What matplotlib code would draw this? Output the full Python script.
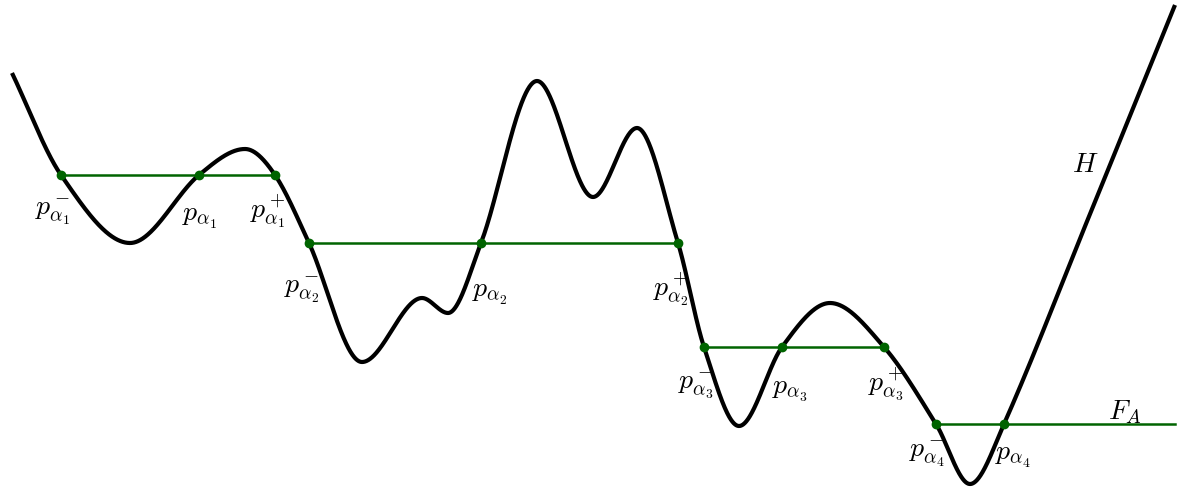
import matplotlib
matplotlib.use("Agg")
import matplotlib.pyplot as plt
import numpy as np

plt.rcParams['mathtext.fontset'] = 'cm'

# knots of the curve H (picture coordinates, y grows downwards)
curve_x = [12, 61, 130, 199, 245, 275, 309, 362, 422, 448, 481, 537, 593, 637,
           678, 704, 739, 782, 830, 884, 936, 970, 1004, 1090, 1175]
curve_y = [73, 175, 243, 175, 149, 175, 243, 362, 298, 313, 243, 81, 197, 128,
           243, 347, 426, 347, 303, 347, 424, 484, 424, 214, 5]

# levels of F_A
level_y = [175, 243, 347, 424]
level_x0 = [61, 309, 704, 936]
level_x1 = [275, 678, 884, 1175]
dots_x = [[61, 199, 275], [309, 481, 678], [704, 782, 884], [936, 1004]]

labels = [r'$p^-_{\alpha_1}$', r'$p_{\alpha_1}$', r'$p^+_{\alpha_1}$',
          r'$p^-_{\alpha_2}$', r'$p_{\alpha_2}$', r'$p^+_{\alpha_2}$',
          r'$p^-_{\alpha_3}$', r'$p_{\alpha_3}$', r'$p^+_{\alpha_3}$',
          r'$p^-_{\alpha_4}$', r'$p_{\alpha_4}$', r'$H$', r'$F_A$']
label_x = [53, 200, 268, 302, 490, 671, 696, 790, 886, 927, 1013, 1085, 1125]
label_y = [212, 217, 211, 290, 293, 289, 386, 389, 384, 454, 456, 164, 412]


def smooth(x, y, xs):
    # cubic hermite, flat at the extrema
    x = np.asarray(x, float)
    y = np.asarray(y, float)
    h = np.diff(x)
    d = np.diff(y) / h
    m = np.zeros_like(y)
    for k in range(1, len(x) - 1):
        if d[k - 1] * d[k] > 0:
            m[k] = (y[k + 1] - y[k - 1]) / (x[k + 1] - x[k - 1])
    m[0] = d[0]
    m[-1] = d[-1]
    i = np.clip(np.searchsorted(x, xs) - 1, 0, len(x) - 2)
    t = (xs - x[i]) / h[i]
    h00 = 2 * t**3 - 3 * t**2 + 1
    h10 = t**3 - 2 * t**2 + t
    h01 = -2 * t**3 + 3 * t**2
    h11 = t**3 - t**2
    return h00 * y[i] + h10 * h[i] * m[i] + h01 * y[i + 1] + h11 * h[i] * m[i + 1]


fig = plt.figure(figsize=(11.82, 4.90), dpi=100)
ax = fig.add_axes([0, 0, 1, 1])
ax.set_xlim(0, 1182)
ax.set_ylim(490, 0)
ax.axis('off')

xs = np.linspace(curve_x[0], curve_x[-1], 4000)
ax.plot(xs, smooth(curve_x, curve_y, xs), color='black', lw=3,
        solid_capstyle='butt', zorder=2)

green = '#006400'
for yl, a, b, dx in zip(level_y, level_x0, level_x1, dots_x):
    ax.plot([a, b], [yl, yl], color=green, lw=1.8, zorder=3)
    ax.plot(dx, [yl] * len(dx), 'o', color=green, ms=6, zorder=4)

for s, lx, ly in zip(labels, label_x, label_y):
    ax.text(lx, ly, s, fontsize=20, ha='center', va='center')

fig.savefig('out.png', dpi=100)
